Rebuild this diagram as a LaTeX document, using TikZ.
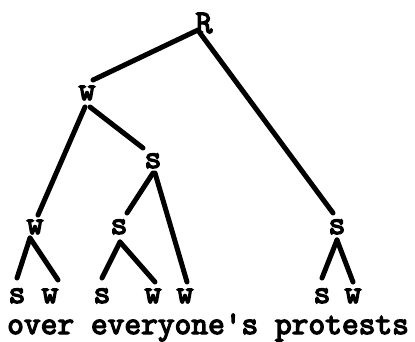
\documentclass[tikz,border=0pt]{standalone}
\usepackage{fontspec}
\newfontfamily\typw[FakeBold=4]{Latin Modern Mono}
\begin{document}
\begin{tikzpicture}[x=1pt,y=-1pt,
  lab/.style={font=\fontsize{33}{34}\typw, inner sep=0pt, anchor=base},
  edge/.style={line width=5pt, line cap=round}]
\useasboundingbox (0,0) rectangle (415,341);
% labels
\node[lab] (R) at (204,33) {R};
\node[lab] (w1) at (87,100) {w};
\node[lab] (s1) at (153,168) {s};
\node[lab] (w2) at (35,234) {w};
\node[lab] (s2) at (119,234) {s};
\node[lab] (s3) at (337,234) {s};
\node[lab] (l1) at (17,303) {s};
\node[lab] (l2) at (50,303) {w};
\node[lab] (l3) at (102,303) {s};
\node[lab] (l4) at (153,303) {w};
\node[lab] (l5) at (185,303) {w};
\node[lab] (l6) at (322,303) {s};
\node[lab] (l7) at (353,303) {w};
\node[lab, font=\fontsize{32.5}{34}\typw, anchor=base west] (txt) at (7,334) {over everyone's protests};
% edges
\draw[edge] ([shift={(-6,-3)}]R.base) -- ([shift={(6,-20)}]w1.base);
\draw[edge] ([shift={(-4,0)}]R.base) -- ([shift={(-4,-21)}]s3.base);
\draw[edge] ([shift={(3,7)}]w1.base) -- ([shift={(-10,-20)}]s1.base);
\draw[edge] ([shift={(-2,7)}]w1.base) -- ([shift={(3,-19)}]w2.base);
\draw[edge] ([shift={(0,5)}]s1.base) -- ([shift={(8,-21)}]s2.base);
\draw[edge] ([shift={(2,5)}]s1.base) -- ([shift={(2,-21)}]l5.base);
\draw[edge] ([shift={(-5,4)}]w2.base) -- ([shift={(0,-25)}]l1.base);
\draw[edge] ([shift={(-5,4)}]w2.base) -- ([shift={(8,-23)}]l2.base);
\draw[edge] ([shift={(1,8)}]s2.base) -- ([shift={(0,-25)}]l3.base);
\draw[edge] ([shift={(1,8)}]s2.base) -- ([shift={(2,-21)}]l4.base);
\draw[edge] ([shift={(0,6)}]s3.base) -- ([shift={(0,-25)}]l6.base);
\draw[edge] ([shift={(0,6)}]s3.base) -- ([shift={(0,-21)}]l7.base);
\end{tikzpicture}
\end{document}
